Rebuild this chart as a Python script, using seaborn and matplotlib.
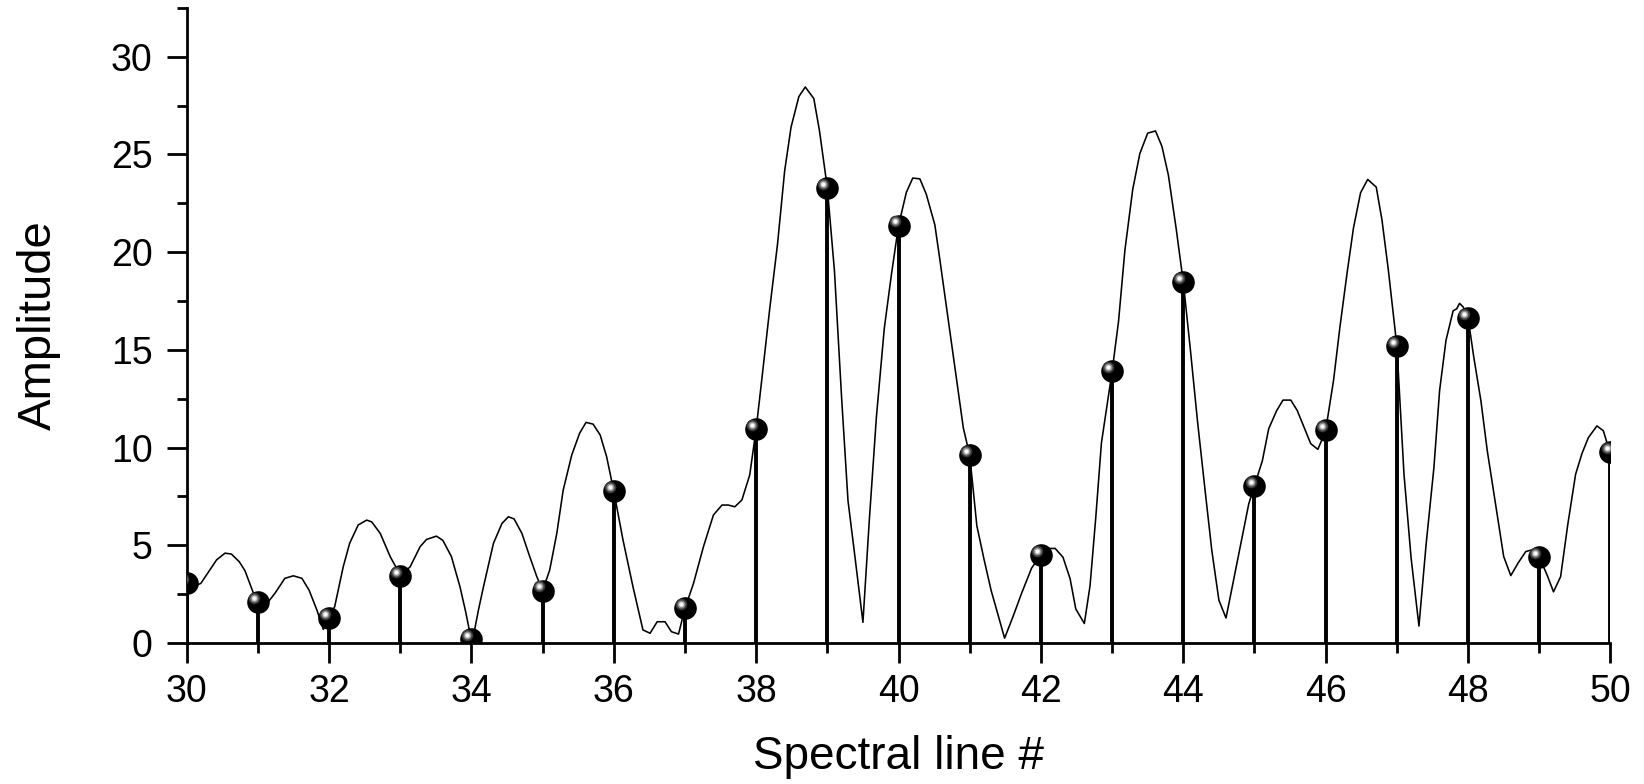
import numpy as np
import pandas as pd
import matplotlib
matplotlib.use("Agg")
import matplotlib.pyplot as plt
from matplotlib.ticker import MultipleLocator
from matplotlib.transforms import offset_copy
import seaborn as sns

# Spectral line amplitudes (one per line number)
line_no = list(range(30, 51))
amplitude = [3.06, 2.09, 1.29, 3.43, 0.22, 2.68, 7.78, 1.77, 10.95, 23.29, 21.36,
             9.61, 4.51, 13.90, 18.46, 8.05, 10.89, 15.19, 16.64, 4.40, 9.77]

# Continuous (zero-padded) spectrum envelope
env_x = [30.00, 30.20, 30.42, 30.54, 30.63, 30.74, 30.82, 30.94, 31.00, 31.08,
         31.24, 31.38, 31.50, 31.62, 31.72, 31.83, 31.92, 32.00, 32.08, 32.20,
         32.29, 32.41, 32.53, 32.60, 32.72, 32.86, 32.95, 33.00, 33.14, 33.28,
         33.37, 33.51, 33.60, 33.72, 33.84, 33.92, 33.98, 34.02, 34.10, 34.17,
         34.31, 34.43, 34.52, 34.60, 34.71, 34.82, 34.92, 35.00, 35.10, 35.20,
         35.29, 35.41, 35.52, 35.61, 35.71, 35.81, 35.90, 36.00, 36.13, 36.27,
         36.41, 36.51, 36.61, 36.72, 36.81, 36.91, 37.00, 37.12, 37.26, 37.40,
         37.52, 37.61, 37.70, 37.80, 37.91, 38.00, 38.08, 38.19, 38.30, 38.40,
         38.49, 38.60, 38.69, 38.81, 38.89, 39.00, 39.10, 39.20, 39.29, 39.39,
         39.50, 39.59, 39.69, 39.80, 39.90, 40.00, 40.11, 40.20, 40.30, 40.39,
         40.51, 40.58, 40.67, 40.79, 40.91, 41.00, 41.10, 41.20, 41.30, 41.40,
         41.49, 41.61, 41.73, 41.87, 42.00, 42.10, 42.20, 42.31, 42.41, 42.49,
         42.61, 42.69, 42.77, 42.85, 43.00, 43.09, 43.18, 43.29, 43.39, 43.50,
         43.61, 43.70, 43.79, 43.90, 44.00, 44.10, 44.20, 44.31, 44.40, 44.50,
         44.60, 44.71, 44.83, 44.92, 45.00, 45.11, 45.20, 45.31, 45.40, 45.51,
         45.60, 45.69, 45.79, 45.89, 45.95, 46.00, 46.11, 46.20, 46.30, 46.39,
         46.49, 46.59, 46.71, 46.79, 46.88, 47.00, 47.10, 47.20, 47.31, 47.41,
         47.52, 47.60, 47.69, 47.79, 47.84, 47.88, 47.93, 48.00, 48.08, 48.18,
         48.27, 48.38, 48.50, 48.60, 48.70, 48.81, 48.90, 49.00, 49.11, 49.20,
         49.30, 49.40, 49.51, 49.60, 49.69, 49.81, 49.90, 49.95, 50.00]
env_y = [2.75, 3.05, 4.25, 4.60, 4.55, 4.16, 3.70, 2.54, 2.09, 1.80,
         2.54, 3.31, 3.44, 3.31, 2.71, 1.69, 0.70, 1.29, 1.86, 3.90,
         5.10, 6.04, 6.29, 6.20, 5.61, 4.42, 3.82, 3.43, 3.90, 4.93,
         5.30, 5.47, 5.25, 4.42, 2.88, 1.60, 0.50, 0.20, 1.70, 2.88,
         5.10, 6.12, 6.46, 6.35, 5.61, 4.42, 3.39, 2.68, 3.73, 5.61,
         7.83, 9.62, 10.73, 11.29, 11.20, 10.64, 9.53, 7.78, 5.27, 2.88,
         0.67, 0.50, 1.09, 1.09, 0.58, 0.46, 1.77, 3.05, 4.93, 6.55,
         7.06, 7.06, 6.97, 7.32, 8.60, 10.95, 13.50, 17.08, 20.40, 24.14,
         26.39, 27.96, 28.45, 27.86, 26.20, 23.29, 19.04, 12.58, 7.29, 4.35,
         1.06, 6.31, 11.60, 16.10, 18.85, 21.36, 23.06, 23.79, 23.75, 22.96,
         21.40, 19.63, 17.28, 14.15, 11.01, 9.61, 6.00, 4.30, 2.70, 1.40,
         0.25, 1.37, 2.56, 3.84, 4.51, 4.84, 4.84, 4.39, 3.29, 1.74,
         1.00, 2.93, 6.40, 10.24, 13.90, 16.45, 20.11, 23.22, 25.05, 26.09,
         26.20, 25.41, 23.95, 21.20, 18.46, 14.99, 11.33, 7.68, 4.75, 2.19,
         1.28, 3.29, 5.48, 7.13, 8.05, 9.32, 10.97, 11.88, 12.43, 12.43,
         11.90, 11.10, 10.20, 9.91, 10.43, 10.89, 13.43, 16.17, 18.92, 21.23,
         23.04, 23.72, 23.33, 21.66, 19.09, 15.19, 8.63, 4.34, 0.87, 5.03,
         8.97, 12.92, 15.49, 17.00, 17.10, 17.38, 17.20, 16.64, 14.63, 12.40,
         9.83, 7.26, 4.43, 3.45, 4.08, 4.68, 4.77, 4.40, 3.48, 2.62,
         3.40, 6.05, 8.63, 9.70, 10.51, 11.11, 10.86, 10.26, 9.77]

x_ticks = [30, 32, 34, 36, 38, 40, 42, 44, 46, 48, 50]
y_ticks = [0, 5, 10, 15, 20, 25, 30]

lines = pd.DataFrame({"line": line_no, "amp": amplitude})
envelope = pd.DataFrame({"x": env_x, "y": env_y})

sns.set_style("ticks")
plt.rcParams["font.family"] = ["Liberation Sans", "DejaVu Sans"]
plt.rcParams["text.color"] = "black"
plt.rcParams["axes.labelcolor"] = "black"

fig = plt.figure(figsize=(16.44, 7.84), dpi=100)
ax = fig.add_axes([0.1135, 0.1798, 0.8661, 0.8102])

# Stems
ax.vlines(lines["line"], 0, lines["amp"], color="black", lw=2.8, zorder=2)

# Envelope curve
sns.lineplot(data=envelope, x="x", y="y", ax=ax, color="black", lw=1.15,
             sort=False, estimator=None, zorder=3)

# Sphere-like markers: black ball plus a soft highlight towards upper-left
sns.scatterplot(data=lines, x="line", y="amp", ax=ax, s=265, color="black",
                edgecolor="black", linewidth=0, zorder=4)
hl = offset_copy(ax.transData, fig=fig, x=-2.8, y=3.0, units="points")
for size, shade in [(70, "#3a3a3a"), (34, "#8c8c8c"), (14, "#d8d8d8"), (5, "#ffffff")]:
    ax.scatter(lines["line"], lines["amp"], s=size, color=shade, linewidths=0,
               transform=hl, zorder=5)

ax.set_xlim(30, 50)
ax.set_ylim(0, 32.5)
ax.set_xticks(x_ticks)
ax.set_yticks(y_ticks)
ax.xaxis.set_minor_locator(MultipleLocator(1))
ax.yaxis.set_minor_locator(MultipleLocator(2.5))

sns.despine(ax=ax)
for side in ["left", "bottom"]:
    ax.spines[side].set_linewidth(2.0)
    ax.spines[side].set_color("black")

ax.tick_params(axis="both", which="major", length=14.4, width=2.0,
               labelsize=27, color="black", labelcolor="black")
ax.tick_params(axis="both", which="minor", length=7.2, width=2.0, color="black")
ax.tick_params(axis="x", which="major", pad=8)
ax.tick_params(axis="y", which="major", pad=10)

ax.set_xlabel("Spectral line #", fontsize=33, labelpad=18, color="black")
ax.set_ylabel("Amplitude", fontsize=34, labelpad=36, color="black")
ax.grid(False)

fig.savefig("out.png", dpi=100, facecolor="white")
